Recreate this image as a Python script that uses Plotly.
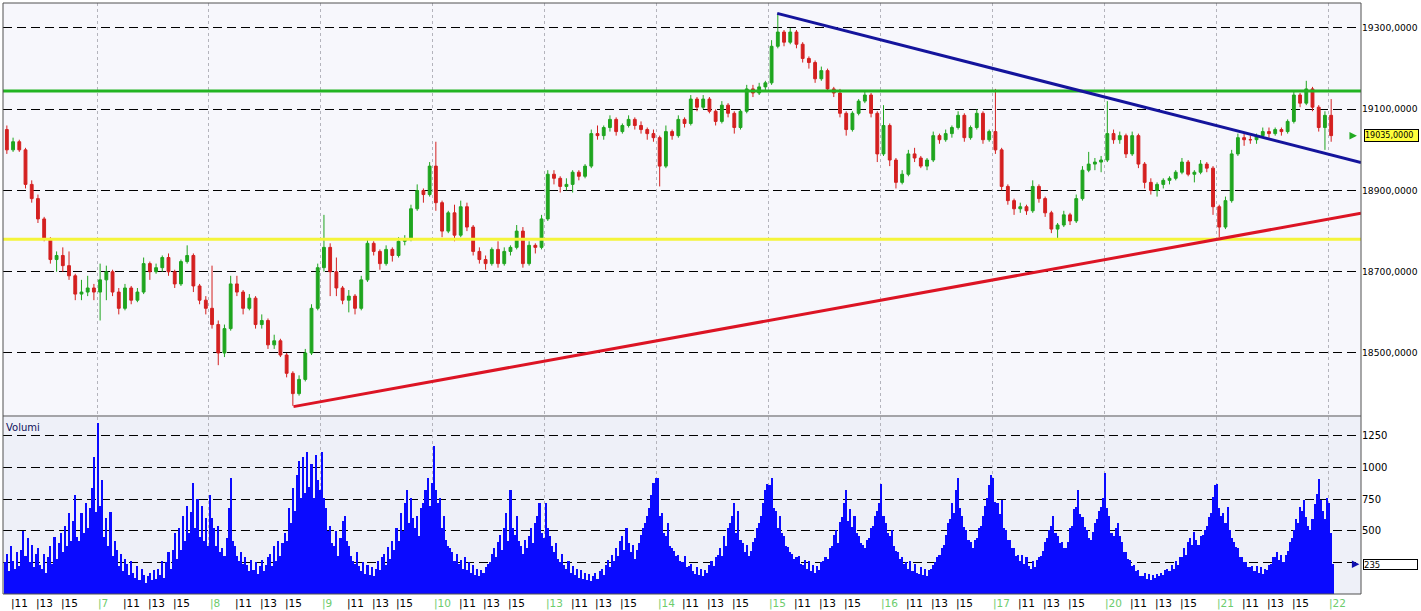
import plotly.graph_objects as go

# ---------------- data ----------------
days = [6, 7, 8, 9, 10, 13, 14, 15, 16, 17, 20, 21, 22]
hour_ticks = [11, 13, 15]
slots_per_day = 18          # half-hour slots, 9:00 - 18:00
first_slot = 3              # first bar: day 6, 10:30

opens = [
    19050,19000,19020,19000,18915,18880,18830,18780,18730,18740,18715,18690,18645,18650,18660,
    18650,18680,18700,18650,18610,18660,18630,18650,18720,18700,18710,18735,18700,18670,18725,18740,18665,18630,
    18610,18570,18500,18560,18670,18650,18610,18635,18570,18580,18520,18530,18495,18450,18400,18435,18500,18610,
    18710,18760,18700,18660,18630,18640,18610,18680,18770,18750,18720,18755,18740,18775,18780,18855,18900,18890,
    18960,18870,18800,18845,18790,18860,18810,18750,18730,18720,18755,18720,18750,18760,18800,18720,18765,18760,
    18830,18940,18930,18910,18915,18945,18935,18960,19040,19035,19055,19075,19045,19060,19075,19060,19050,19040,
    19030,18960,19045,19035,19075,19065,19125,19105,19125,19095,19070,19110,19090,19055,19095,19150,19140,19155,
    19165,19255,19290,19265,19290,19260,19225,19215,19175,19195,19150,19140,19090,19050,19090,19120,19135,19090,
    18990,19060,18975,18920,18940,18990,18980,18960,18975,19035,19025,19040,19055,19085,19030,19055,19090,19025,
    19045,19000,18910,18875,18855,18860,18850,18910,18880,18845,18805,18815,18840,18825,18880,18950,18965,18970,
    18975,19040,19025,19035,18990,19035,18965,18920,18900,18915,18925,18930,18945,18970,18940,18945,18965,18955,
    18860,18810,18875,18990,19030,19025,19025,19035,19045,19040,19050,19045,19070,19135,19115,19150,19105,19055,
    19085]
highs = [
    19060,19030,19025,19005,18925,18890,18835,18785,18750,18760,18750,18695,18680,18690,18670,
    18720,18715,18705,18660,18670,18665,18660,18735,18725,18720,18740,18745,18705,18730,18765,18745,18670,18640,
    18715,18580,18570,18690,18690,18655,18645,18640,18595,18585,18545,18535,18500,18455,18445,18510,18620,18720,
    18840,18770,18735,18665,18655,18645,18690,18780,18775,18755,18765,18760,18785,18790,18865,18915,18905,18970,
    19020,18875,18850,18865,18875,18870,18815,18760,18740,18760,18775,18760,18765,18815,18810,18775,18770,18840,
    18950,18950,18935,18930,18950,18950,18965,19050,19060,19060,19085,19080,19065,19085,19080,19070,19055,19050,
    19035,19060,19050,19085,19080,19135,19130,19135,19130,19100,19120,19115,19095,19100,19160,19160,19165,19170,
    19270,19335,19295,19300,19295,19265,19230,19220,19205,19200,19155,19150,19095,19095,19125,19145,19140,19095,
    19110,19065,18980,18950,19000,19005,18985,18980,19045,19040,19050,19060,19095,19090,19060,19100,19095,19050,
    19150,19005,18915,18880,18870,18865,18925,18915,18885,18850,18820,18850,18845,18890,18960,18995,18980,18985,
    19120,19050,19045,19040,19045,19040,18970,18930,18920,18930,18935,18950,18980,18975,18950,18975,18970,18960,
    18865,18885,19000,19040,19040,19035,19040,19055,19055,19055,19055,19075,19145,19140,19170,19155,19110,19095,
    19125]
lows = [
    18990,18995,18995,18905,18870,18820,18775,18720,18700,18700,18680,18630,18630,18640,18630,
    18580,18630,18640,18595,18605,18620,18625,18645,18680,18695,18700,18690,18660,18665,18720,18650,18620,18595,
    18560,18470,18490,18555,18640,18595,18605,18560,18560,18510,18510,18490,18440,18370,18395,18430,18495,18605,
    18700,18640,18640,18620,18600,18595,18605,18675,18740,18705,18715,18725,18735,18765,18775,18850,18870,18885,
    18850,18785,18795,18775,18785,18800,18740,18720,18705,18715,18710,18715,18740,18755,18710,18715,18745,18755,
    18825,18915,18895,18900,18895,18925,18930,18955,19025,19025,19045,19035,19040,19055,19050,19040,19025,19020,
    18910,18955,19025,19030,19055,19060,19095,19100,19090,19060,19065,19080,19040,19050,19090,19130,19135,19145,
    19160,19250,19255,19260,19250,19215,19200,19165,19170,19145,19130,19080,19035,19045,19085,19115,19080,18970,
    18985,18960,18905,18915,18935,18970,18955,18950,18970,19015,19020,19030,19050,19020,19025,19050,19015,19020,
    18990,18900,18865,18840,18845,18840,18845,18870,18835,18795,18780,18810,18815,18820,18875,18945,18950,18945,
    18970,19015,19015,18980,18985,18955,18905,18890,18885,18905,18915,18925,18940,18935,18920,18940,18945,18840,
    18785,18805,18870,18985,19010,19015,19015,19030,19030,19035,19035,19040,19065,19105,19110,19095,19045,19000,
    19020]
closes = [
    19000,19020,19000,18915,18880,18830,18780,18730,18740,18715,18690,18645,18650,18660,18650,
    18680,18700,18650,18610,18660,18630,18650,18720,18700,18710,18735,18700,18670,18725,18740,18665,18630,18610,
    18570,18500,18560,18670,18650,18610,18635,18570,18580,18520,18530,18495,18450,18400,18435,18500,18610,18710,
    18760,18700,18660,18630,18640,18610,18680,18770,18750,18720,18755,18740,18775,18780,18855,18900,18890,18960,
    18870,18800,18845,18790,18860,18810,18750,18730,18720,18755,18720,18750,18760,18800,18720,18765,18760,18830,
    18940,18930,18910,18915,18945,18935,18960,19040,19035,19055,19075,19045,19060,19075,19060,19050,19040,19030,
    18960,19045,19035,19075,19065,19125,19105,19125,19095,19070,19110,19090,19055,19095,19150,19140,19155,19165,
    19255,19290,19265,19290,19260,19225,19215,19175,19195,19150,19140,19090,19050,19090,19120,19135,19090,18990,
    19060,18975,18920,18940,18990,18980,18960,18975,19035,19025,19040,19055,19085,19030,19055,19090,19025,19045,
    19000,18910,18875,18855,18860,18850,18910,18880,18845,18805,18815,18840,18825,18880,18950,18965,18970,18975,
    19040,19025,19035,18990,19035,18965,18920,18900,18915,18925,18930,18945,18970,18940,18945,18965,18955,18860,
    18810,18875,18990,19030,19025,19025,19035,19045,19040,19050,19045,19070,19135,19115,19150,19105,19055,19085,
    19035]

# volume, 10-minute bars (3 per half-hour slot)
vol_d06 = [250,320,180,380,260,200,330,220,350, 500,300,440,250,390,210,320,360,230,
           200,320,170,290,380,240,450,280,400, 480,330,540,380,640,420,580,780,450,
           420,640,480,720,520,680,840,1080,650]
vol_d07 = [1350,700,900,450,600,380,650,300,420, 350,220,320,180,280,240,150,260,170,
           130,220,110,200,150,90,140,170,110, 190,120,200,150,260,130,250,330,200,
           350,480,280,520,350,620,420,700,480, 650,880,520,750,450,700,420,600,380]
vol_d08 = [780,600,520,380,540,330,360,300,440, 680,920,420,380,300,260,330,240,290,
           230,180,270,190,250,160,220,270,180, 230,290,320,220,380,260,420,300,400,
           480,420,680,560,840,660,940,1050,760, 1080,800,1120,850,1030,760,1100,900,820]
vol_d09 = [1120,760,680,500,540,400,380,500,300, 440,580,620,420,380,300,260,240,330,
           220,180,250,160,230,150,210,140,200, 260,190,290,320,230,370,280,420,350,
           520,420,640,500,720,820,560,760,600, 520,620,460,680,720,820,920,700,880]
vol_d10 = [1170,820,720,760,520,620,430,380,360, 330,260,320,240,270,200,290,190,250,
           170,230,150,200,140,190,170,210,240, 250,320,360,290,410,470,350,520,640,
           420,820,520,470,620,420,380,320,430, 360,460,520,400,560,620,720,480,440]
vol_d13 = [720,520,460,380,330,400,280,250,320, 230,200,260,170,220,150,200,130,190,
           120,170,110,160,100,140,170,120,180, 200,150,230,270,210,310,260,360,300,
           420,460,350,520,400,330,390,280,350, 400,470,520,560,620,680,780,880,920]
vol_d14 = [920,620,640,480,460,560,380,360,340, 300,310,260,250,300,210,220,240,180,
           160,210,150,200,140,190,170,230,260, 220,290,310,360,300,460,380,520,560,
           620,720,480,660,430,400,330,390,300, 340,410,440,520,560,620,720,820,870]
vol_d15 = [860,920,680,660,520,620,480,460,380, 370,330,320,280,290,300,240,230,270,
           200,260,180,230,170,220,190,250,260, 290,280,360,380,470,510,400,570,610,
           720,820,580,670,530,620,480,460,400, 390,360,430,440,520,540,620,660,720]
vol_d16 = [870,620,560,480,460,510,380,340,330, 280,290,240,250,200,260,180,240,170,
           160,210,150,200,140,190,200,230,250, 290,310,360,390,470,560,590,720,640,
           820,920,680,620,530,510,430,410,360, 430,440,520,540,620,700,760,860,940]
vol_d17 = [920,730,720,630,740,520,510,430,430, 360,360,300,310,260,310,240,290,220,
           200,260,210,270,290,300,340,410,440, 510,540,620,480,460,400,410,360,360,
           410,520,540,670,690,820,630,610,530, 510,440,430,490,560,590,660,690,760]
vol_d20 = [960,680,620,480,460,520,560,460,410, 330,330,280,270,220,230,180,190,140,
           140,170,120,160,110,150,130,160,140, 170,150,190,200,180,230,200,260,230,
           290,290,360,310,410,440,390,490,430, 390,460,470,510,540,610,640,770,860]
vol_d21 = [870,680,620,640,560,690,510,440,410, 370,360,290,290,250,250,210,210,220,
           180,220,170,210,160,200,190,230,240, 290,290,330,270,310,250,310,340,410,
           440,510,590,560,690,660,740,610,540, 510,590,710,790,910,740,660,590,760]
vol_d22 = [720,480,235]
volume = (vol_d06 + vol_d07 + vol_d08 + vol_d09 + vol_d10 + vol_d13 + vol_d14 +
          vol_d15 + vol_d16 + vol_d17 + vol_d20 + vol_d21 + vol_d22)

resistance_level = 19145
support_level = 18780
down_trend_x = [127.4, 221.3]
down_trend_y = [19336, 18969]
up_trend_x = [49.6, 221.3]
up_trend_y = [18368, 18844]
last_price = 19035
last_volume = 235
price_ticks = [18500, 18700, 18900, 19100, 19300]
price_tick_text = ["18500,0000", "18700,0000", "18900,0000", "19100,0000", "19300,0000"]
vol_ticks = [250, 500, 750, 1000, 1250]
vol_tick_text = ["", "500", "750", "1000", "1250"]

# ---------------- figure ----------------
X_RANGE = [2.88, 221.3]
FONT = "DejaVu Sans"
GREEN = "#1fa51f"
RED = "#d42020"
W, H = 1421, 611

bar_x = [first_slot + i + 0.5 for i in range(len(closes))]
vol_x = [first_slot + (g + 0.5) / 3 for g in range(len(volume))]

fig = go.Figure()

fig.add_trace(go.Candlestick(
    x=bar_x, open=opens, high=highs, low=lows, close=closes,
    increasing=dict(line=dict(color=GREEN, width=1), fillcolor=GREEN),
    decreasing=dict(line=dict(color=RED, width=1), fillcolor=RED),
    whiskerwidth=0, xaxis="x", yaxis="y", showlegend=False, hoverinfo="skip"))

fig.add_trace(go.Scatter(x=X_RANGE, y=[resistance_level] * 2, mode="lines",
                         line=dict(color="#22b422", width=3), xaxis="x", yaxis="y",
                         showlegend=False, hoverinfo="skip"))
fig.add_trace(go.Scatter(x=X_RANGE, y=[support_level] * 2, mode="lines",
                         line=dict(color="#f4f43a", width=3), xaxis="x", yaxis="y",
                         showlegend=False, hoverinfo="skip"))
fig.add_trace(go.Scatter(x=down_trend_x, y=down_trend_y, mode="lines",
                         line=dict(color="#14149c", width=3), xaxis="x", yaxis="y",
                         showlegend=False, hoverinfo="skip"))
fig.add_trace(go.Scatter(x=up_trend_x, y=up_trend_y, mode="lines",
                         line=dict(color="#dc1424", width=3), xaxis="x", yaxis="y",
                         showlegend=False, hoverinfo="skip"))

fig.add_trace(go.Bar(x=vol_x, y=volume, width=1 / 3, marker=dict(color="#0a0aff", line=dict(width=0)),
                     xaxis="x2", yaxis="y2", showlegend=False, hoverinfo="skip"))

day_slots = [slots_per_day * k for k in range(len(days))]

axis_common = dict(range=X_RANGE, tickvals=day_slots, showticklabels=False, ticks="",
                   showgrid=True, gridcolor="#b4b4bc", gridwidth=1, griddash="3px,3px",
                   zeroline=False, showline=False, fixedrange=True, automargin=False)

PRICE_DOM = [0.3029, 1.0]
VOL_DOM = [0.0, 0.2995]

fig.update_layout(
    width=W, height=H, autosize=False,
    margin=dict(l=3, r=60, t=3, b=17, autoexpand=False),
    paper_bgcolor="white", plot_bgcolor="#f7f7fc",
    font=dict(family=FONT, size=10.5, color="black"),
    boxgap=0.35, bargap=0, showlegend=False,
    xaxis=dict(anchor="y", domain=[0, 1], rangeslider=dict(visible=False), **axis_common),
    xaxis2=dict(anchor="y2", domain=[0, 1], matches="x", **axis_common),
    yaxis=dict(domain=PRICE_DOM, anchor="x", side="right", range=[18347.4, 19361.5],
               tickvals=price_ticks, ticktext=price_tick_text, ticks="",
               showgrid=True, gridcolor="black", gridwidth=1, griddash="9px,5px",
               zeroline=False, tickfont=dict(size=9.2, family=FONT), fixedrange=True,
               automargin=False),
    yaxis2=dict(domain=VOL_DOM, anchor="x2", side="right", range=[0, 1400],
                tickvals=vol_ticks, ticktext=vol_tick_text, ticks="",
                showgrid=True, gridcolor="black", gridwidth=1, griddash="9px,5px",
                zeroline=False, tickfont=dict(size=10, family=FONT), fixedrange=True,
                automargin=False),
)

shapes = [
    dict(type="rect", xref="paper", yref="y2 domain", x0=0, x1=1, y0=0, y1=1,
         fillcolor="#eef0f8", line=dict(width=0), layer="below"),
    dict(type="line", xref="paper", yref="paper", x0=0, x1=1,
         y0=(PRICE_DOM[0] + VOL_DOM[1]) / 2, y1=(PRICE_DOM[0] + VOL_DOM[1]) / 2,
         line=dict(color="#a4a4a8", width=2), layer="above"),
    dict(type="rect", xref="paper", yref="paper", x0=0, x1=1, y0=0, y1=1,
         line=dict(color="#505050", width=1), fillcolor="rgba(0,0,0,0)", layer="above"),
]
fig.update_layout(shapes=shapes)

annotations = []
# x-axis labels: days (green) and hours (black)
for k, d in enumerate(days):
    s = slots_per_day * k
    if s >= X_RANGE[0]:
        annotations.append(dict(x=s, xref="x", y=0, yref="paper", text="|" + str(d),
                                showarrow=False, xanchor="left", yanchor="top",
                                xshift=-1, yshift=-1,
                                font=dict(size=10.5, color="#6ccc6c", family=FONT)))
    if k < len(days) - 1:
        for h in hour_ticks:
            hs = s + 2 * (h - 9)
            if hs >= X_RANGE[0]:
                annotations.append(dict(x=hs, xref="x", y=0, yref="paper", text="|" + str(h),
                                        showarrow=False, xanchor="left", yanchor="top",
                                        xshift=-1, yshift=-1,
                                        font=dict(size=10.5, color="black", family=FONT)))

annotations.append(dict(x=0, xref="paper", y=VOL_DOM[1], yref="paper", text="Volumi",
                        showarrow=False, xanchor="left", yanchor="top", xshift=1, yshift=-3,
                        font=dict(size=10, color="#10105a", family=FONT)))

annotations.append(dict(x=1, xref="paper", y=last_price, yref="y",
                        text="%d,0000" % last_price, showarrow=False,
                        xanchor="left", yanchor="middle", xshift=3, align="left",
                        width=53, height=11, bgcolor="#ffff3c", bordercolor="black",
                        borderwidth=1, borderpad=0,
                        font=dict(size=8, color="black", family=FONT)))
annotations.append(dict(x=0.9970, xref="paper", y=last_price, yref="y", text="",
                        showarrow=True, ax=-8, ay=0, arrowhead=2, arrowsize=1,
                        arrowwidth=1.5, arrowcolor="#22aa22"))

annotations.append(dict(x=1, xref="paper", y=last_volume, yref="y2",
                        text=str(last_volume), showarrow=False,
                        xanchor="left", yanchor="middle", xshift=2, align="left",
                        width=53, height=9, bgcolor="white", bordercolor="black",
                        borderwidth=1, borderpad=0,
                        font=dict(size=8.5, color="black", family=FONT)))
annotations.append(dict(x=0.9988, xref="paper", y=last_volume, yref="y2", text="",
                        showarrow=True, ax=-8, ay=0, arrowhead=2, arrowsize=1,
                        arrowwidth=1.5, arrowcolor="#1010b0"))

fig.update_layout(annotations=annotations)

post = (
    "document.body.style.margin='0px';"
    "document.body.style.padding='0px';"
    "document.body.style.overflow='hidden';"
    "var gd=document.getElementById('{plot_id}');"
    "gd.style.width='%dpx';gd.style.height='%dpx';"
    "Plotly.relayout(gd,{width:%d,height:%d});" % (W, H, W, H)
)

fig.write_html("out.html", config={"displayModeBar": False, "responsive": False},
               post_script=post)
